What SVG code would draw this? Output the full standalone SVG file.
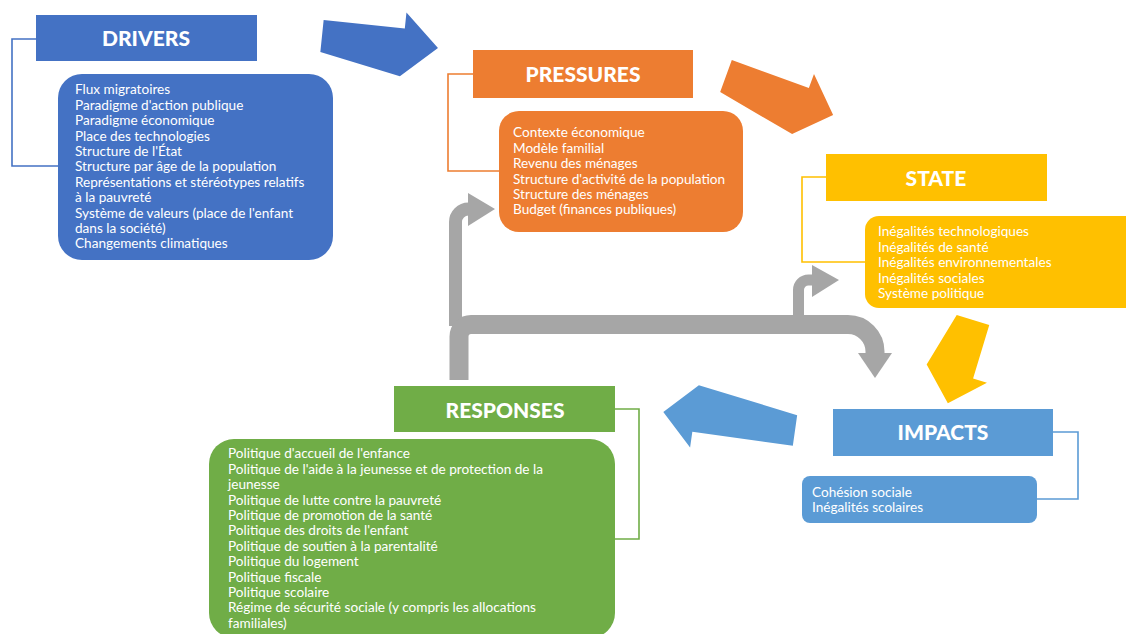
<svg xmlns="http://www.w3.org/2000/svg" width="1126" height="634" viewBox="0 0 1126 634">
  <style>
    .hdr { font-family: Lato, "Open Sans", "Liberation Sans", sans-serif; font-weight: 900; font-size: 21px; fill: #ffffff; text-anchor: middle; }
    .body { font-family: Lato, "Open Sans", "Liberation Sans", sans-serif; font-size: 13.6px; fill: #ffffff; }
    .brk { fill: none; stroke-width: 1.6; }
    .flow { fill: none; stroke: #a6a6a6; stroke-linecap: butt; }
    .flowhead { fill: #a6a6a6; }
  </style>
  <rect width="1126" height="634" fill="#ffffff"/>

  <!-- Feedback connectors from RESPONSES -->
  <g id="connectors">
    <path class="flow" stroke-width="13" d="M455.5,326 V222 A13,13 0 0 1 468.5,209 H470"/>
    <polygon class="flowhead" points="468,193 468,226 495,209"/>
    <path class="flow" stroke-width="11" d="M798.5,326 V290 A10,10 0 0 1 808.5,280 H813"/>
    <polygon class="flowhead" points="812,265 812,297 839,280"/>
    <path class="flow" stroke-width="19" d="M459,380 V336.5 A12,12 0 0 1 471,324.5 H848 A27,27 0 0 1 875,351.5 V354"/>
    <polygon class="flowhead" points="858,353 892,353 875,378"/>

    <!-- Block arrows of the main cycle -->
    <polygon fill="#4472c4" transform="translate(322,36) rotate(5.9)" points="0,-16 81.6,-16 81.6,-32 116.6,0 81.6,32 0,16"/>
    <polygon fill="#ed7d31" transform="translate(726,76) rotate(20)" points="0,-17 82,-17 82,-32 114,0 82,32 0,17"/>
    <polygon fill="#ffc000" transform="translate(973,320) rotate(106.8)" points="0,-17 56,-17 56,-31.5 87,0 56,31.5 0,17"/>
    <polygon fill="#5b9bd5" transform="translate(795,430.5) rotate(188)" points="0,-15.5 101.5,-15.5 101.5,-31.5 133,0 101.5,31.5 0,15.5"/>
  </g>

  <g id="drivers">
    <path class="brk" stroke="#4472c4" d="M36,39 H12 V166 H58"/>
    <rect x="36" y="15" width="221" height="46" fill="#4472c4"/>
    <text class="hdr" x="146" y="46">DRIVERS</text>
    <rect x="58" y="74" width="275" height="186" rx="24" fill="#4472c4"/>
    <text class="body">
      <tspan x="75" y="94.3">Flux migratoires</tspan>
      <tspan x="75" y="109.7">Paradigme d'action publique</tspan>
      <tspan x="75" y="125.1">Paradigme économique</tspan>
      <tspan x="75" y="140.5">Place des technologies</tspan>
      <tspan x="75" y="155.9">Structure de l'État</tspan>
      <tspan x="75" y="171.3">Structure par âge de la population</tspan>
      <tspan x="75" y="186.7">Représentations et stéréotypes relatifs</tspan>
      <tspan x="75" y="202.1">à la pauvreté</tspan>
      <tspan x="75" y="217.5">Système de valeurs (place de l'enfant</tspan>
      <tspan x="75" y="232.9">dans la société)</tspan>
      <tspan x="75" y="248.3">Changements climatiques</tspan>
    </text>
  </g>

  <g id="pressures">
    <path class="brk" stroke="#ed7d31" d="M473,74 H448 V171 H499"/>
    <rect x="473" y="50" width="220" height="48" fill="#ed7d31"/>
    <text class="hdr" x="583" y="81.5">PRESSURES</text>
    <rect x="499" y="111" width="244" height="121" rx="20" fill="#ed7d31"/>
    <text class="body">
      <tspan x="513" y="137.3">Contexte économique</tspan>
      <tspan x="513" y="152.7">Modèle familial</tspan>
      <tspan x="513" y="168.1">Revenu des ménages</tspan>
      <tspan x="513" y="183.5">Structure d'activité de la population</tspan>
      <tspan x="513" y="198.9">Structure des ménages</tspan>
      <tspan x="513" y="214.3">Budget (finances publiques)</tspan>
    </text>
  </g>

  <g id="state">
    <path class="brk" stroke="#ffc000" d="M826,177 H802 V262 H865"/>
    <rect x="826" y="154" width="221" height="47" fill="#ffc000"/>
    <text class="hdr" x="936" y="185.5">STATE</text>
    <rect x="865" y="216" width="275" height="92" rx="14" fill="#ffc000"/>
    <text class="body">
      <tspan x="878" y="236">Inégalités technologiques</tspan>
      <tspan x="878" y="251.5">Inégalités de santé</tspan>
      <tspan x="878" y="267">Inégalités environnementales</tspan>
      <tspan x="878" y="282.5">Inégalités sociales</tspan>
      <tspan x="878" y="298">Système politique</tspan>
    </text>
  </g>

  <g id="impacts">
    <path class="brk" stroke="#5b9bd5" d="M1053,432 H1078 V499 H1037"/>
    <rect x="833" y="409" width="220" height="47" fill="#5b9bd5"/>
    <text class="hdr" x="943" y="439.5">IMPACTS</text>
    <rect x="802" y="476" width="235" height="47" rx="8" fill="#5b9bd5"/>
    <text class="body">
      <tspan x="812" y="496.7">Cohésion sociale</tspan>
      <tspan x="812" y="511.7">Inégalités scolaires</tspan>
    </text>
  </g>

  <g id="responses">
    <path class="brk" stroke="#70ad47" d="M615,409 H639 V539 H615"/>
    <rect x="394" y="386" width="221" height="46" fill="#70ad47"/>
    <text class="hdr" x="505" y="417.5">RESPONSES</text>
    <rect x="209" y="439" width="406" height="199" rx="25" fill="#70ad47"/>
    <text class="body">
      <tspan x="228" y="458.3">Politique d'accueil de l'enfance</tspan>
      <tspan x="228" y="473.7">Politique de l'aide à la jeunesse et de protection de la</tspan>
      <tspan x="228" y="489.1">jeunesse</tspan>
      <tspan x="228" y="504.5">Politique de lutte contre la pauvreté</tspan>
      <tspan x="228" y="519.9">Politique de promotion de la santé</tspan>
      <tspan x="228" y="535.3">Politique des droits de l'enfant</tspan>
      <tspan x="228" y="550.7">Politique de soutien à la parentalité</tspan>
      <tspan x="228" y="566.1">Politique du logement</tspan>
      <tspan x="228" y="581.5">Politique fiscale</tspan>
      <tspan x="228" y="596.9">Politique scolaire</tspan>
      <tspan x="228" y="612.3">Régime de sécurité sociale (y compris les allocations</tspan>
      <tspan x="228" y="627.7">familiales)</tspan>
    </text>
  </g>
</svg>
